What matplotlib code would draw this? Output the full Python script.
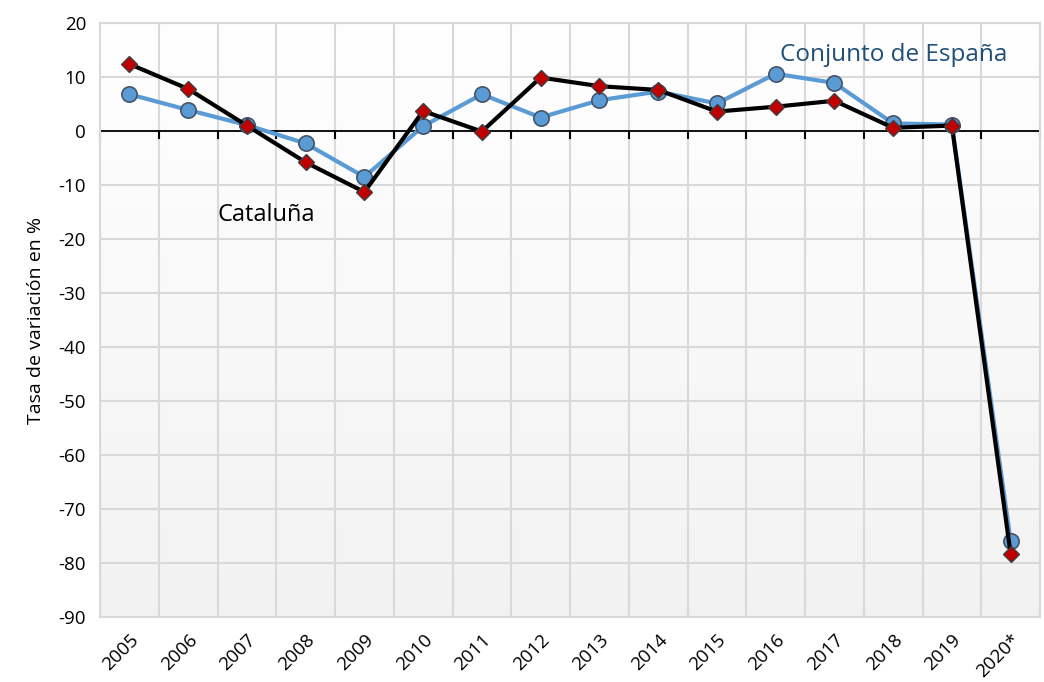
import matplotlib
matplotlib.use("Agg")
import matplotlib.pyplot as plt
import numpy as np
from matplotlib.colors import LinearSegmentedColormap

years = ["2005", "2006", "2007", "2008", "2009", "2010", "2011", "2012",
         "2013", "2014", "2015", "2016", "2017", "2018", "2019", "2020*"]
espana = [6.8, 3.9, 1.1, -2.3, -8.5, 0.9, 6.8, 2.5, 5.7, 7.3, 5.1, 10.6, 8.9, 1.4, 1.2, -75.9]
cataluna = [12.4, 7.8, 1.0, -5.8, -11.3, 3.7, -0.1, 9.9, 8.3, 7.6, 3.6, 4.5, 5.6, 0.6, 1.0, -78.3]
yticks = [20, 10, 0, -10, -20, -30, -40, -50, -60, -70, -80, -90]

plt.rcParams['font.family'] = ['Open Sans', 'DejaVu Sans']

fig = plt.figure(figsize=(10.44, 6.82), dpi=100)
ax = fig.add_axes([100/1044, 1-617/682, 940/1044, 594/682])

n = len(years)
x = np.arange(n)
ymin, ymax = min(yticks), max(yticks)
ax.set_xlim(-0.5, n-0.5)
ax.set_ylim(ymin, ymax)

# background gradient
cmap = LinearSegmentedColormap.from_list("bg", ["#f2f2f2", "#ffffff"])
grad = np.linspace(0, 1, 256).reshape(-1, 1)
ax.imshow(grad, aspect='auto', cmap=cmap, origin='lower',
          extent=[-0.5, n-0.5, ymin, ymax], zorder=0)

# grid
bounds = np.arange(n+1) - 0.5
ax.set_xticks(bounds, minor=True)
ax.set_xticks(x)
ax.set_xticklabels(years, rotation=45, ha='right', va='top', rotation_mode='anchor', fontsize=13.5)
ax.tick_params(axis='x', which='major', length=0, pad=10)
ax.tick_params(axis='x', which='minor', length=0)
ax.set_yticks(yticks)
ax.set_yticklabels([str(v) for v in yticks], fontsize=13.5)
ax.tick_params(axis='y', length=0, pad=10)
ax.grid(True, which='minor', axis='x', color='#d9d9d9', linewidth=1.5, zorder=1)
ax.grid(True, which='major', axis='y', color='#d9d9d9', linewidth=1.5, zorder=1)
for s in ax.spines.values():
    s.set_color('#d9d9d9')
    s.set_linewidth(1.5)

# zero axis with ticks
ax.axhline(0, color='black', linewidth=1.3, zorder=2)
ax.plot(bounds, np.zeros_like(bounds), linestyle='none', marker=3, markersize=6,
        markeredgewidth=1.5, color='black', zorder=2, clip_on=False)

ax.plot(x, espana, color='#5b9bd5', linewidth=3, marker='o', markersize=11,
        markerfacecolor='#5b9bd5', markeredgecolor='#44546a', markeredgewidth=1.2, zorder=3)
ax.plot(x, cataluna, color='black', linewidth=3, marker='D', markersize=8,
        markerfacecolor='#c00000', markeredgecolor='#404040', markeredgewidth=1.0, zorder=4)

ax.text(11.07, 14.1, "Conjunto de España", color='#1f4e79', fontsize=17.5, ha='left', va='center', zorder=5)
ax.text(1.5, -15.5, "Cataluña", color='black', fontsize=17, ha='left', va='center', zorder=5)

ax.set_ylabel("Tasa de variación en %", fontsize=14, labelpad=10)

fig.savefig("out.png", dpi=100)
